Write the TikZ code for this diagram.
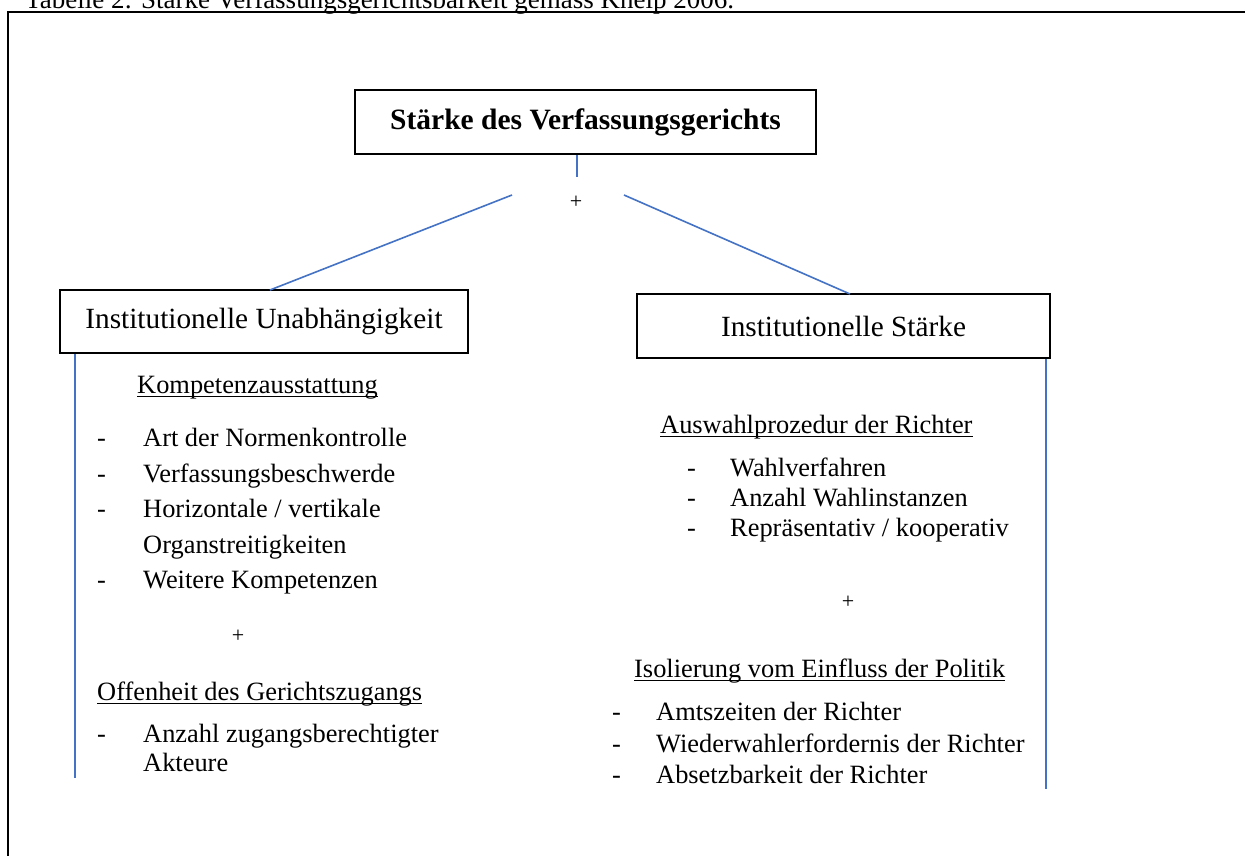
\documentclass[tikz,border=0pt]{standalone}
\usepackage{fontspec}
\setmainfont{Liberation Serif}
\begin{document}
\begin{tikzpicture}[x=1pt,y=-1pt,
  txt/.style={inner sep=0pt,anchor=base west,font=\fontsize{26.4}{30}\selectfont},
  boxlbl/.style={draw=black,line width=2pt,inner sep=0pt,font=\fontsize{29.3}{33}\selectfont},
  link/.style={draw=linkblue,line width=1.6pt},
  uline/.style={line width=1.3pt},
  plus/.style={inner sep=0pt,font=\fontsize{22}{26}\selectfont}]
\definecolor{linkblue}{RGB}{68,114,196}
\useasboundingbox (0,0) rectangle (1245,855);
\clip (0,0) rectangle (1245,855);
\fill[white] (0,0) rectangle (1245,855);

% caption and outer frame
\node[txt,font=\fontsize{27}{30}\selectfont] (cap) at (25,8) {Tabelle 2: Stärke Verfassungsgerichtsbarkeit gemäss Kneip 2006.};
\draw[line width=2.4pt] (8,880) -- (8,12) -- (1270,12);

% boxes
\node[boxlbl,minimum width=461pt,minimum height=64pt,font=\bfseries\fontsize{29.5}{33}\selectfont] (top) at (585.5,122) {Stärke des Verfassungsgerichts};
\node[boxlbl,minimum width=408pt,minimum height=63pt] (left) at (264,321.5) {Institutionelle Unabhängigkeit};
\node[boxlbl,minimum width=413pt,minimum height=64pt] (right) at (843.5,326) {Institutionelle Stärke};

% connectors
\coordinate (stem) at (577,177);
\coordinate (la) at (512,195);
\coordinate (ra) at (624,195);
\coordinate (lb) at (270,290);
\coordinate (rb) at (850,294);
\coordinate (lend) at (75,778);
\coordinate (rend) at (1046,789);
\node[plus] (p0) at (576,202) {+};
\draw[link] (top.south -| stem) -- (stem);
\draw[link] (la) -- (lb);
\draw[link] (ra) -- (rb);
\draw[link] (left.south -| lend) -- (lend);
\draw[link] (right.south -| rend) -- (rend);

% left column
\node[txt] (h1) at (137,393) {Kompetenzausstattung};
\draw[uline] ([yshift=-3.5pt]h1.base west) -- ([yshift=-3.5pt]h1.base east);
\node[txt] (d1) at (97,446) {-};
\node[txt] (l1) at (143,446) {Art der Normenkontrolle};
\node[txt] (d2) at (97,482) {-};
\node[txt] (l2) at (143,482) {Verfassungsbeschwerde};
\node[txt] (d3) at (97,517) {-};
\node[txt] (l3) at (143,517) {Horizontale / vertikale};
\node[txt] (l3b) at (143,553) {Organstreitigkeiten};
\node[txt] (d4) at (97,588) {-};
\node[txt] (l4) at (143,588) {Weitere Kompetenzen};
\node[plus] (p1) at (238,636) {+};
\node[txt] (h2) at (97,700) {Offenheit des Gerichtszugangs};
\draw[uline] ([yshift=-3.5pt]h2.base west) -- ([yshift=-3.5pt]h2.base east);
\node[txt] (d5) at (97,742) {-};
\node[txt] (l5) at (143,742) {Anzahl zugangsberechtigter};
\node[txt] (l5b) at (143,771) {Akteure};

% right column
\node[txt] (h3) at (660,433) {Auswahlprozedur der Richter};
\draw[uline] ([yshift=-3.5pt]h3.base west) -- ([yshift=-3.5pt]h3.base east);
\node[txt] (d6) at (687,476) {-};
\node[txt] (r1) at (730,476) {Wahlverfahren};
\node[txt] (d7) at (687,506) {-};
\node[txt] (r2) at (730,506) {Anzahl Wahlinstanzen};
\node[txt] (d8) at (687,536) {-};
\node[txt] (r3) at (730,536) {Repräsentativ / kooperativ};
\node[plus] (p2) at (848,602) {+};
\node[txt] (h4) at (634,677) {Isolierung vom Einfluss der Politik};
\draw[uline] ([yshift=-3.5pt]h4.base west) -- ([yshift=-3.5pt]h4.base east);
\node[txt] (d9) at (612,720) {-};
\node[txt] (r4) at (656,720) {Amtszeiten der Richter};
\node[txt] (d10) at (612,752) {-};
\node[txt] (r5) at (656,752) {Wiederwahlerfordernis der Richter};
\node[txt] (d11) at (612,783) {-};
\node[txt] (r6) at (656,783) {Absetzbarkeit der Richter};
\end{tikzpicture}
\end{document}
